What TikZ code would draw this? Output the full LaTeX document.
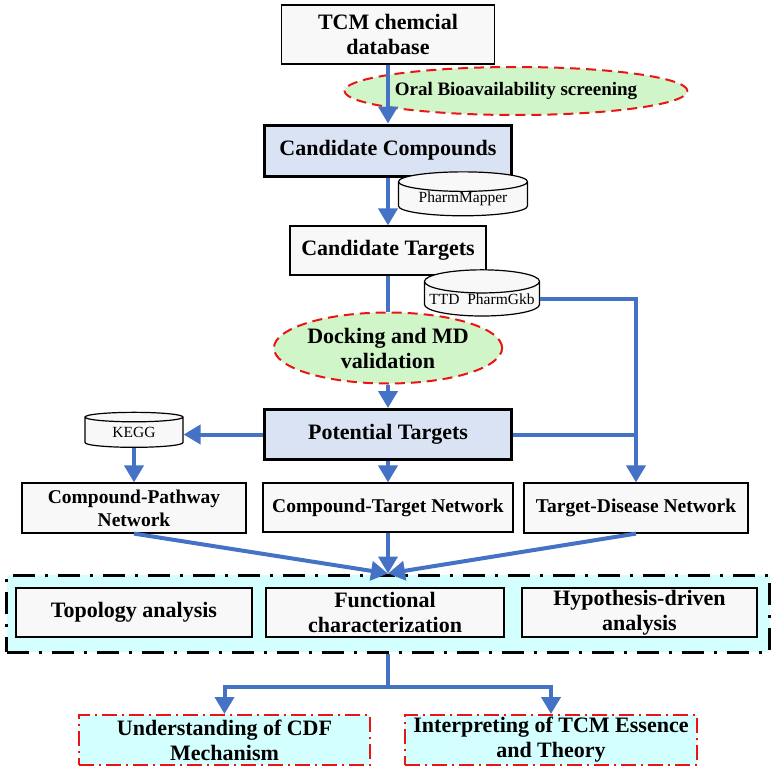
\documentclass[tikz,border=0pt]{standalone}
\usepackage{fontspec}
\setmainfont{Liberation Serif}
\usetikzlibrary{shapes.geometric,arrows.meta}

\definecolor{flowblue}{RGB}{68,114,196}
\definecolor{keyfill}{RGB}{218,227,243}
\definecolor{boxfill}{RGB}{248,248,248}
\definecolor{evalfill}{RGB}{208,245,200}
\definecolor{zonefill}{RGB}{212,255,255}
\definecolor{markred}{RGB}{235,20,20}

\tikzset{
  plainbox/.style={draw,line width=1.2pt,fill=boxfill,inner sep=0pt,align=center},
  keybox/.style={draw,line width=3pt,fill=keyfill,inner sep=0pt,align=center},
  evalring/.style={ellipse,draw=markred,line width=2pt,dash pattern=on 10pt off 6pt,fill=evalfill,inner sep=0pt,align=center},
  dbase/.style={cylinder,shape border rotate=90,aspect=0.22,draw,line width=1.2pt,fill=boxfill,inner sep=0pt,font=\fontsize{15.5}{17}\selectfont},
  outbox/.style={draw=markred,line width=2pt,dash pattern=on 15pt off 5pt on 2pt off 5pt,fill=zonefill,inner sep=0pt,align=center},
  bigtxt/.style={font=\fontsize{22}{25}\selectfont\bfseries},
  midtxt/.style={font=\fontsize{19.5}{23}\selectfont\bfseries},
  flow/.style={draw=flowblue,line width=4pt,-{Triangle[width=19pt,length=17pt]}},
  link/.style={draw=flowblue,line width=4pt}
}

\begin{document}
\begin{tikzpicture}[x=1pt,y=1pt,yscale=-1,xscale=1]
\useasboundingbox (0,0) rectangle (774,771);

% screening chain
\node[plainbox,bigtxt,minimum width=213pt,minimum height=59pt] (tcm) at (388,34.5) {TCM chemcial\\database};
\node[evalring,font=\fontsize{19}{22}\selectfont\bfseries,minimum width=262pt,minimum height=48pt] (oral) at (516,91) {Oral Bioavailability screening};
\node[keybox,bigtxt,minimum width=247pt,minimum height=51pt] (candc) at (388,150.5) {Candidate Compounds};
\node[dbase,minimum width=129pt,minimum height=38pt] (pharm) at (463,199) {PharmMapper};
\node[plainbox,bigtxt,minimum width=196pt,minimum height=49pt] (candt) at (388,250.5) {Candidate Targets};
\node[dbase,minimum width=115pt,minimum height=37pt] (ttd) at (482,299) {TTD~~PharmGkb};
\node[evalring,bigtxt,minimum width=200pt,minimum height=71pt] (dock) at (388,348) {Docking and MD\\validation};
\node[keybox,bigtxt,minimum width=247pt,minimum height=50pt] (pot) at (388,434.5) {Potential Targets};
\node[dbase,minimum width=98pt,minimum height=35pt] (kegg) at (134,432.5) {KEGG};

% networks
\node[plainbox,midtxt,minimum width=224pt,minimum height=50pt] (cpn) at (134,508) {Compound-Pathway\\Network};
\node[plainbox,midtxt,minimum width=250pt,minimum height=49pt] (ctn) at (388,507.5) {Compound-Target Network};
\node[plainbox,midtxt,minimum width=224pt,minimum height=50pt] (tdn) at (636,508) {Target-Disease Network};

% analysis zone
\node[draw,line width=3pt,dash pattern=on 22pt off 10pt on 3pt off 10pt,fill=zonefill,minimum width=763pt,minimum height=77pt,inner sep=0pt] (zone) at (388,613.5) {};
\node[plainbox,bigtxt,minimum width=236pt,minimum height=49pt] (topo) at (134,612.5) {Topology analysis};
\node[plainbox,bigtxt,minimum width=238pt,minimum height=49pt] (func) at (385,612.5) {Functional\\characterization};
\node[plainbox,bigtxt,minimum width=235pt,minimum height=49pt] (hyp) at (639.5,612.5) {Hypothesis-driven\\analysis};

% outcomes
\node[outbox,bigtxt,minimum width=291pt,minimum height=50pt] (under) at (224.5,740) {Understanding of CDF\\Mechanism};
\node[outbox,bigtxt,minimum width=292pt,minimum height=50pt] (interp) at (551,740) {Interpreting of TCM Essence\\and Theory};

% connectors
\draw[flow] (tcm.south) -- (candc.north);
\draw[flow] (candc.south) -- (candt.north);
\draw[link] (candt.south) -- (dock.north);
\draw[flow] (dock.south) -- (pot.north);
\draw[flow] (ttd.east) -| (tdn.north);
\draw[link] (pot.east) -- (pot.east -| tdn.north);
\draw[flow] (pot.west) -- (pot.west -| kegg.east);
\draw[flow] (kegg.south) -- (cpn.north);
\draw[flow] (pot.south) -- (ctn.north);
\draw[flow] (cpn.south) -- (zone.north);
\draw[flow] (ctn.south) -- (zone.north);
\draw[flow] (tdn.south) -- (zone.north);
\draw[link] (zone.south) -- ++(0,33) coordinate (split);
\draw[flow] (split) -| (under.north);
\draw[flow] (split) -| (interp.north);
\end{tikzpicture}
\end{document}
